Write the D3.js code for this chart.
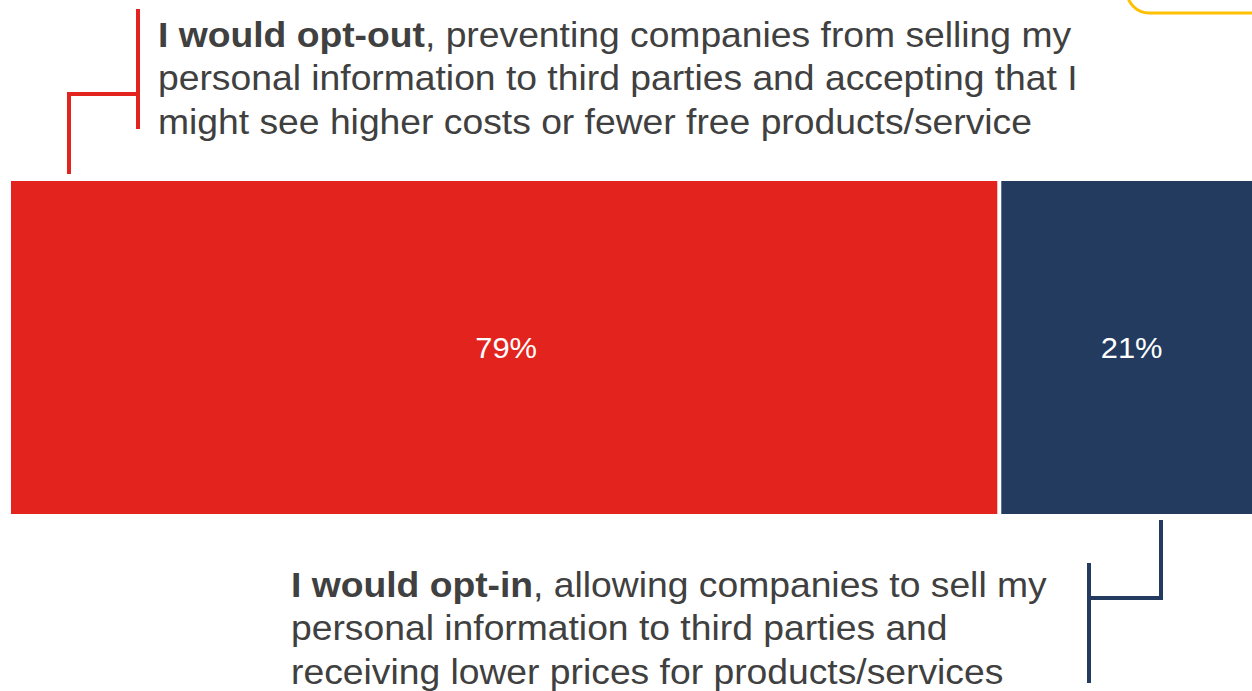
<!DOCTYPE html>
<html>
<head>
<meta charset="utf-8">
<script src="https://cdn.jsdelivr.net/npm/d3@7"></script>
<style>
  html, body { margin: 0; padding: 0; background: #fff; }
  svg { display: block; }
</style>
</head>
<body>
<svg id="chart" width="1252" height="691"></svg>
<script>
// ---- data ----
const categories = ["Opt-out", "Opt-in"];
const values = [79, 21];
const valueLabels = ["79%", "21%"];
const colors = ["#E3241E", "#223B5F"];
const optOutBold = "I would opt-out";
const optOutLines = [
  ", preventing companies from selling my",
  "personal information to third parties and accepting that I",
  "might see higher costs or fewer free products/service"
];
const optInBold = "I would opt-in";
const optInLines = [
  ", allowing companies to sell my",
  "personal information to third parties and",
  "receiving lower prices for products/services"
];

const svg = d3.select("#chart");
const font = "Arial, 'Liberation Sans', Helvetica, sans-serif";
const sx = 1.065;

// scale: 0..100 mapped across bar area
const x = d3.scaleLinear().domain([0, 100]).range([11, 1262]);
const barTop = 181, barBottom = 514;
const gap = 4;

let cum = 0;
const stacks = values.map((v, i) => {
  const s = { key: categories[i], v, x0: cum, x1: cum + v, label: valueLabels[i], color: colors[i] };
  cum += v;
  return s;
});

svg.selectAll("rect.bar")
  .data(stacks)
  .join("rect")
  .attr("class", "bar")
  .attr("x", (d, i) => x(d.x0) + (i > 0 ? gap / 2 : 0))
  .attr("y", barTop)
  .attr("width", (d, i) => x(d.x1) - x(d.x0) - gap / 2)
  .attr("height", barBottom - barTop)
  .attr("fill", d => d.color);

svg.selectAll("g.val")
  .data(stacks)
  .join("g")
  .attr("class", "val")
  .attr("transform", d => `translate(${(x(d.x0) + x(d.x1)) / 2 + 1},${(barTop + barBottom) / 2 + 10}) scale(${sx},1)`)
  .append("text")
  .attr("text-anchor", "middle")
  .attr("fill", "#fff")
  .attr("font-family", font)
  .attr("font-size", 29)
  .text(d => d.label);

// ---- text blocks ----
const textColor = "#404040";
const fs = 35;
function block(xPos, y0, bold, lines) {
  const g = svg.append("g").attr("transform", `translate(${xPos},${y0}) scale(${sx},1)`);
  const t = g.append("text")
    .attr("font-family", font)
    .attr("font-size", fs)
    .attr("fill", textColor);
  const first = t.append("tspan").attr("x", 0).attr("y", 0);
  first.append("tspan").attr("font-weight", "bold").text(bold);
  first.append("tspan").text(lines[0]);
  lines.slice(1).forEach((l, i) => {
    t.append("tspan").attr("x", 0).attr("y", (i + 1) * 43.5).text(l);
  });
}
block(158, 47, optOutBold, optOutLines);
block(291, 597, optInBold, optInLines);

// ---- bracket connectors ----
const line = d3.line();
svg.append("path")
  .attr("d", line([[138, 9], [138, 129]]))
  .attr("stroke", colors[0]).attr("stroke-width", 4).attr("fill", "none");
svg.append("path")
  .attr("d", line([[138, 94], [69, 94], [69, 174]]))
  .attr("stroke", colors[0]).attr("stroke-width", 4).attr("fill", "none");

svg.append("path")
  .attr("d", line([[1161, 520], [1161, 598], [1089, 598]]))
  .attr("stroke", colors[1]).attr("stroke-width", 4).attr("fill", "none");
svg.append("path")
  .attr("d", line([[1089, 563], [1089, 683]]))
  .attr("stroke", colors[1]).attr("stroke-width", 4).attr("fill", "none");

// ---- yellow rounded box corner (top right, mostly off-screen) ----
svg.append("rect")
  .attr("x", 1127).attr("y", -60)
  .attr("width", 200).attr("height", 73)
  .attr("rx", 22).attr("ry", 22)
  .attr("fill", "none")
  .attr("stroke", "#FFC000")
  .attr("stroke-width", 3);
</script>
</body>
</html>
